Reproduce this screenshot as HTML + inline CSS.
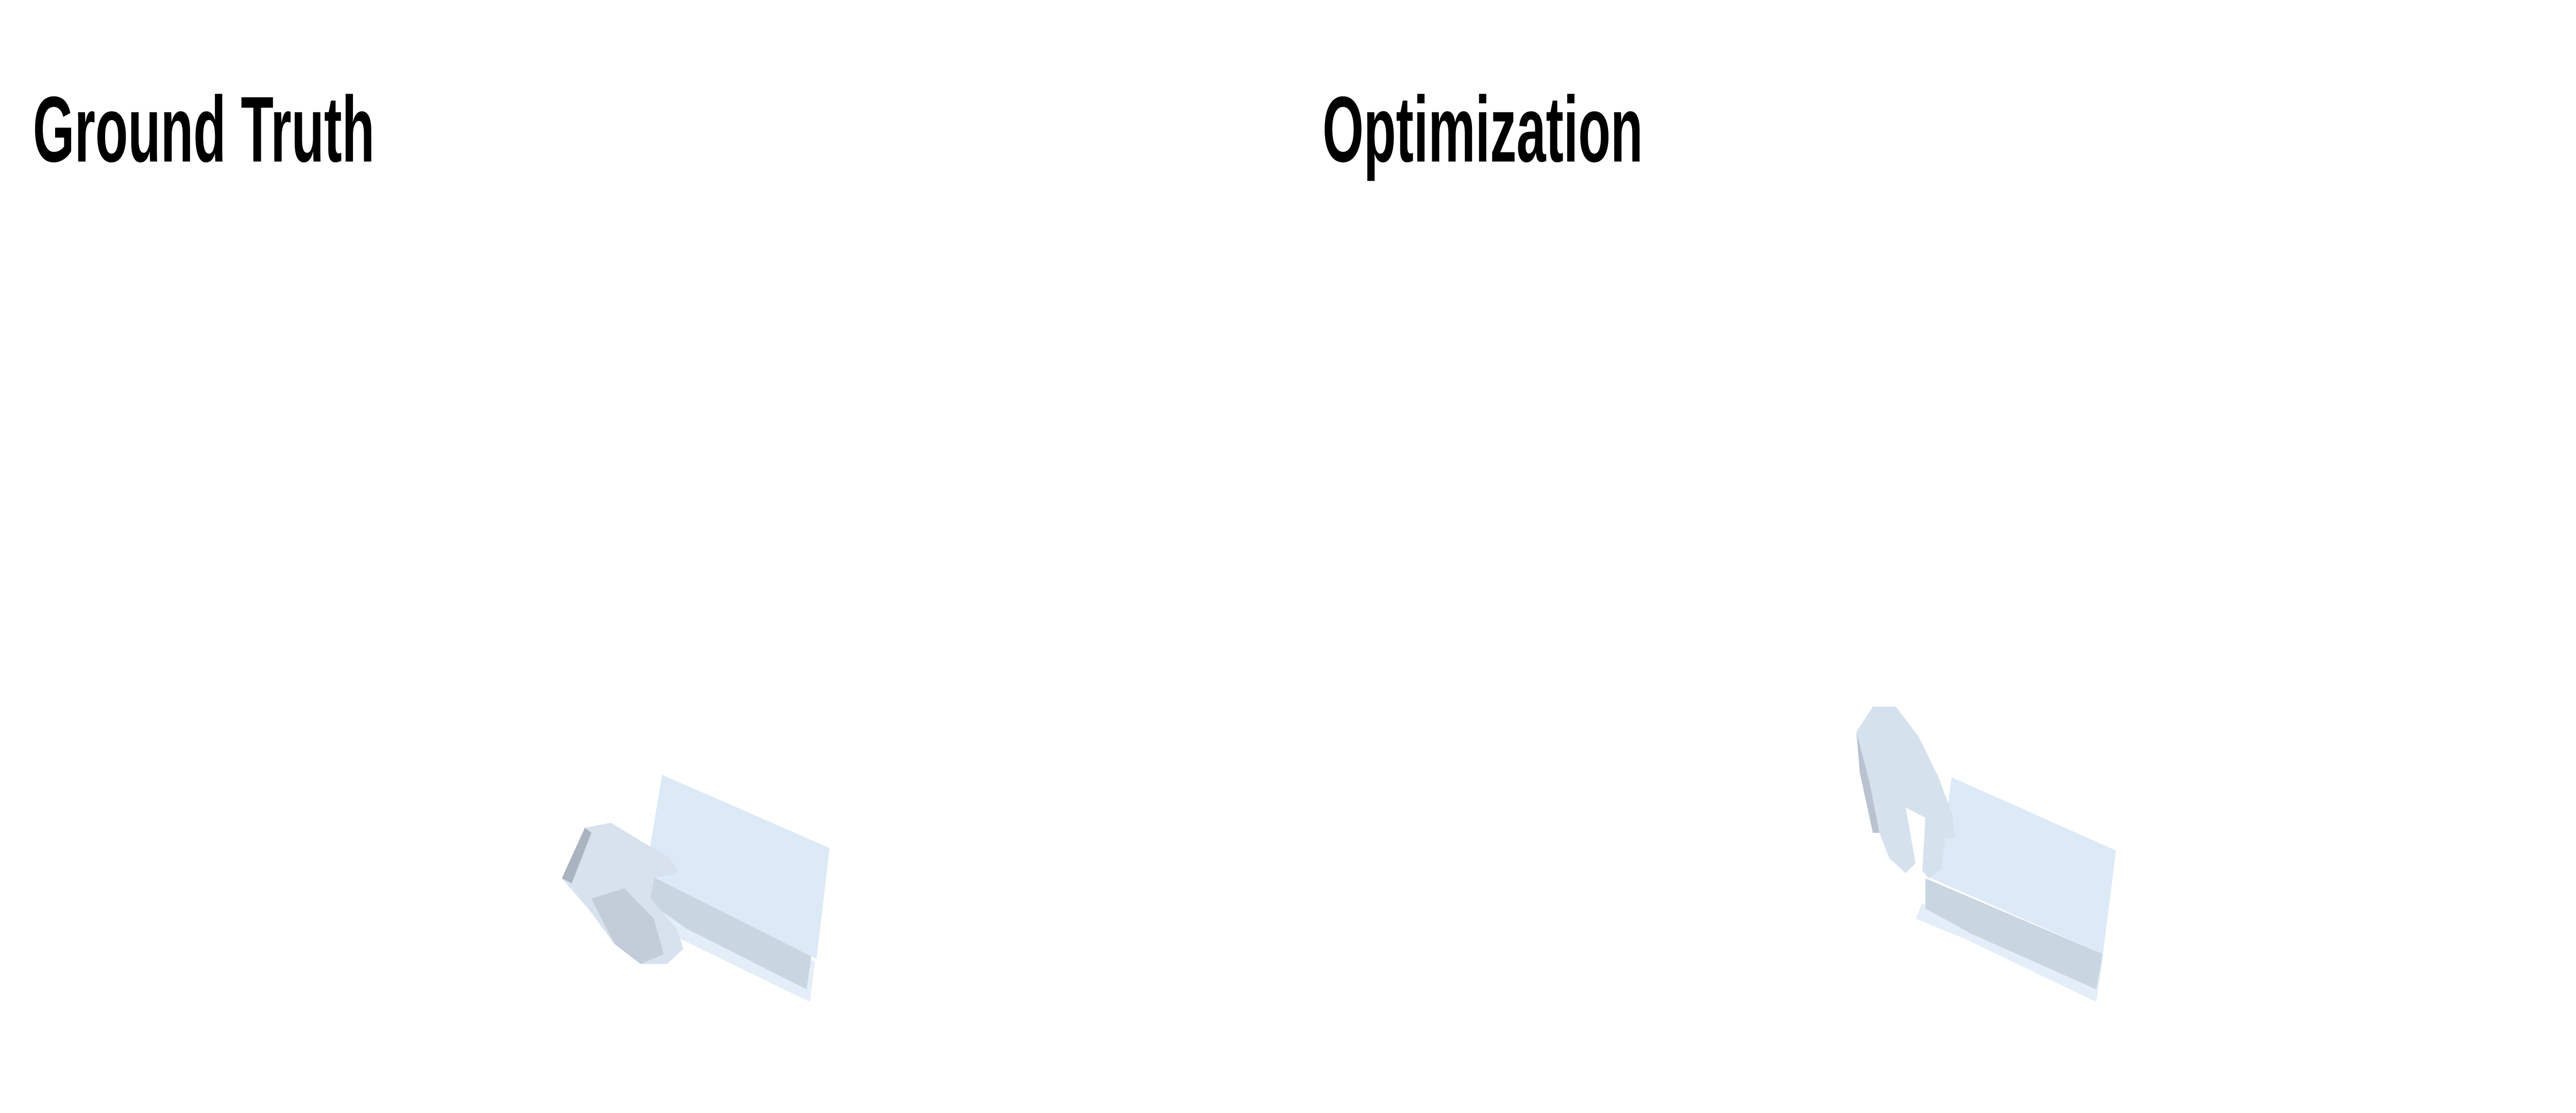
<!DOCTYPE html>
<html><head><meta charset="utf-8"><style>
html,body{margin:0;padding:0;background:#fff;width:100%;height:100%;overflow:hidden}
svg{display:block;position:absolute;left:0;top:0;width:100vw;height:100vh}
</style></head><body>
<svg viewBox="0 0 1568 441" preserveAspectRatio="none">
<rect width="1568" height="441" fill="#fff"/>
<g>
<text x="20" y="64" font-family="'Liberation Sans',sans-serif" font-weight="bold" font-size="37" textLength="208" lengthAdjust="spacingAndGlyphs">Ground Truth</text>
<g>
<polygon points="392,350 496,381 493,397 414,372 388,362" fill="#e4eef8"/>
<polygon points="396,345 494,378 491,392 418,368 396,358" fill="#c9d5e1"/>
<polygon points="403,307 505,336 497,380 393,346" fill="#dce9f6"/>
</g>
<g>
<path d="M342,348 L356,328 L372,326 L392,334 L408,340 L413,346 L398,348 L396,356 L412,368 L416,376 L406,382 L390,382 L374,374 L358,360 Z" fill="#d8e2ee"/>
<path d="M342,348 L356,328 L360,330 L348,350 Z" fill="#aab4c0"/>
<path d="M360,356 L380,352 L398,364 L404,378 L390,382 L374,374 Z" fill="#c3cdd9"/>
</g>
</g>
<g>
<text x="805" y="64" font-family="'Liberation Sans',sans-serif" font-weight="bold" font-size="37" textLength="195" lengthAdjust="spacingAndGlyphs">Optimization</text>
<g>
<polygon points="1170,358 1280,380 1276,397 1196,372 1166,364" fill="#e4eef8"/>
<polygon points="1172,348 1280,378 1276,392 1200,370 1172,360" fill="#c9d5e1"/>
<polygon points="1188,308 1288,337 1280,378 1172,347 1180,345" fill="#dce9f6"/>
</g>
<g>
<path d="M1130,290 L1140,280 L1154,280 L1168,292 L1180,308 L1188,322 L1190,332 L1184,332 L1182,344 L1174,348 L1166,342 L1160,346 L1150,340 L1144,330 L1138,310 Z" fill="#d6e1ee"/>
<path d="M1160,320 L1166,342 L1170,346 L1172,324 Z" fill="#ffffff"/>
<path d="M1130,290 L1138,310 L1144,330 L1140,330 L1132,306 Z" fill="#b8c3cf"/>
</g>
</g>
</svg>
</body></html>
